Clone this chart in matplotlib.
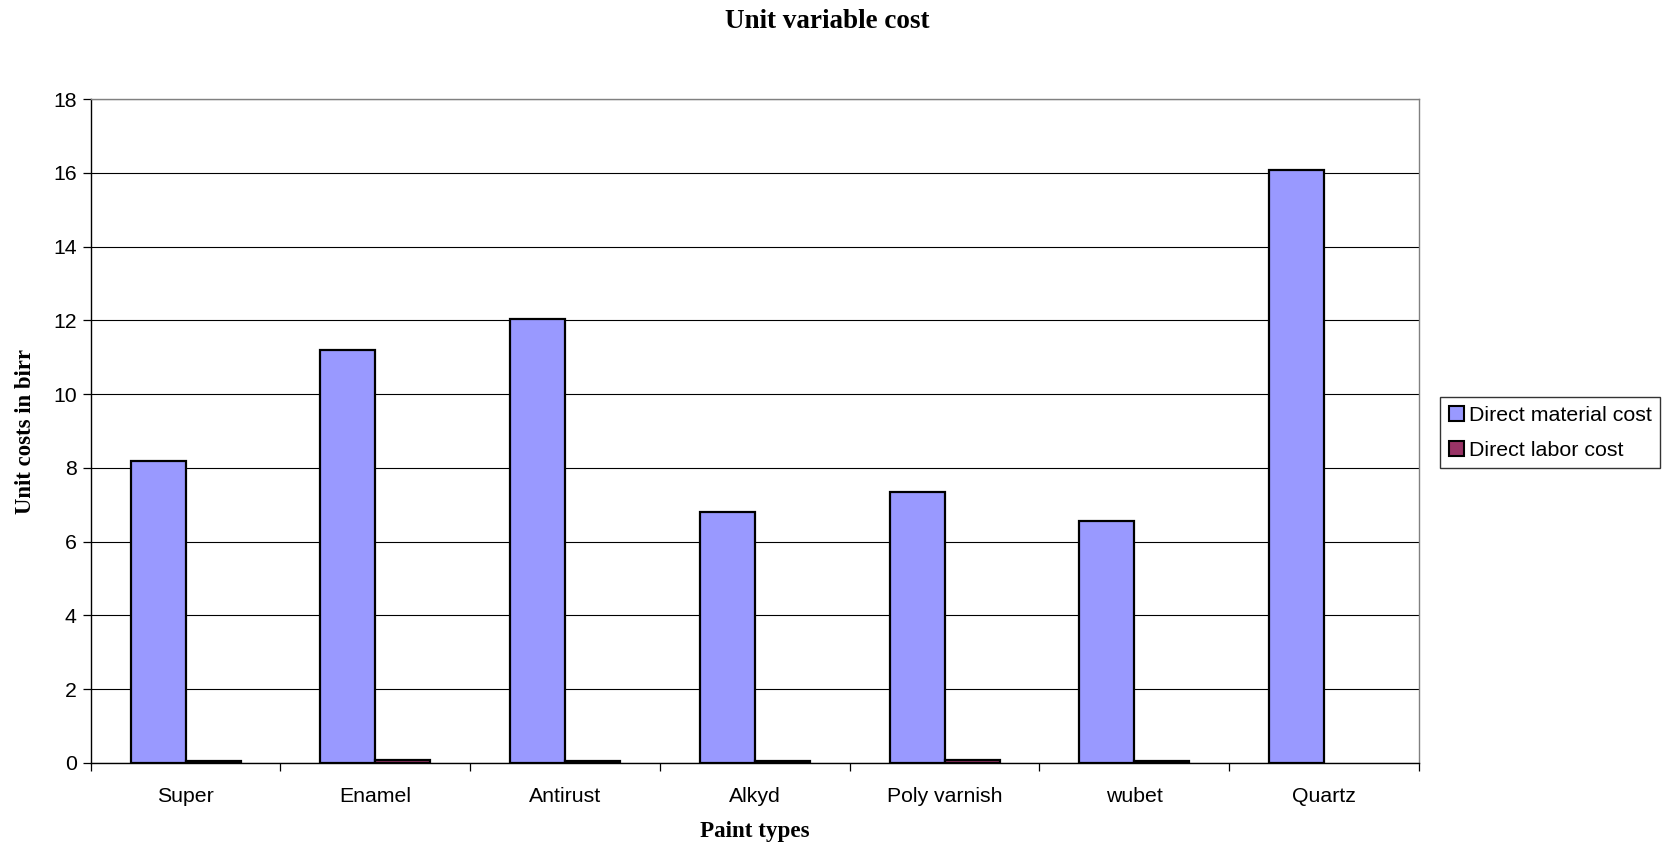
import numpy as np
import matplotlib
matplotlib.use("Agg")
import matplotlib.pyplot as plt
from matplotlib.patches import Patch

categories = ["Super", "Enamel", "Antirust", "Alkyd", "Poly varnish", "wubet", "Quartz"]
material_cost = [8.2, 11.2, 12.03, 6.8, 7.35, 6.55, 16.08]
labor_cost = [0.06, 0.08, 0.05, 0.05, 0.08, 0.06, np.nan]
series_names = ["Direct material cost", "Direct labor cost"]
yticks = [0, 2, 4, 6, 8, 10, 12, 14, 16, 18]

material_color = "#9999FF"
labor_color = "#993366"

fig = plt.figure(figsize=(16.73, 8.48), dpi=100)
ax = fig.add_axes([90.7 / 1673, 1 - 763 / 848, (1419 - 90.7) / 1673, (763 - 99.2) / 848])

x = np.arange(len(categories))
w = 0.29
ax.bar(x - w / 2, material_cost, width=w, color=material_color, edgecolor="black", linewidth=1.6, zorder=3)
ax.bar(x + w / 2, labor_cost, width=w, color=labor_color, edgecolor="black", linewidth=1.6, zorder=3)

ax.set_xlim(-0.5, len(categories) - 0.5)
ax.set_ylim(0, 18)
ax.set_yticks(yticks)
ax.yaxis.grid(True, color="black", linewidth=0.8, zorder=0)
ax.set_axisbelow(True)

ax.set_xticks(x)
ax.set_xticklabels(categories, fontsize=15.3, family="Liberation Sans")
ax.set_xticks(np.arange(len(categories) + 1) - 0.5, minor=True)
ax.tick_params(axis="x", which="major", length=0, pad=17)
ax.tick_params(axis="x", which="minor", length=6, width=0.9, direction="out")
ax.tick_params(axis="y", length=6, width=0.9, direction="out", labelsize=15.3, pad=4)
for lab in ax.get_yticklabels():
    lab.set_family("Liberation Sans")

for side in ["left", "bottom"]:
    ax.spines[side].set_color("black")
    ax.spines[side].set_linewidth(1.0)
for side in ["top", "right"]:
    ax.spines[side].set_color("#808080")
    ax.spines[side].set_linewidth(1.0)

fig.text(827 / 1673, 1 - 22 / 848, "Unit variable cost", ha="center", va="center",
         fontsize=19.5, fontweight="bold", family="Liberation Serif")
fig.text((90.7 + 1419) / 2 / 1673, 1 - 832 / 848, "Paint types", ha="center", va="center",
         fontsize=16.6, fontweight="bold", family="Liberation Serif")
fig.text(25.6 / 1673, 1 - 431 / 848, "Unit costs in birr", ha="center", va="center", rotation=90,
         fontsize=16.4, fontweight="bold", family="Liberation Serif")

handles = [Patch(facecolor=material_color, edgecolor="black", linewidth=1.5),
           Patch(facecolor=labor_color, edgecolor="black", linewidth=1.5)]
leg = fig.legend(handles, series_names, loc="upper left",
                 bbox_to_anchor=(1440 / 1673, 1 - 397 / 848),
                 prop={"family": "Liberation Sans", "size": 15.4},
                 frameon=True, fancybox=False, handlelength=0.7, handleheight=0.7,
                 handletextpad=0.25, borderpad=0.4, labelspacing=0.75, borderaxespad=0)
leg.get_frame().set_edgecolor("black")
leg.get_frame().set_linewidth(1.0)

fig.savefig("out.png", dpi=100, facecolor="white")
